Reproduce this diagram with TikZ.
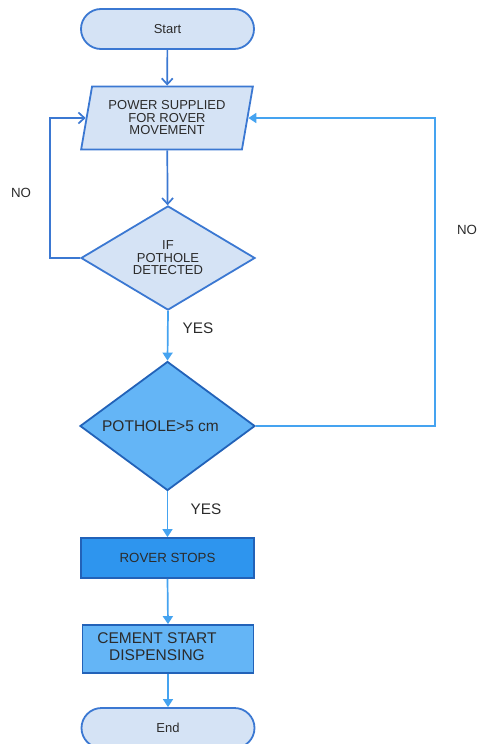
\documentclass[tikz,border=0pt]{standalone}
\usepackage{fontspec}
\setmainfont{Liberation Sans}
\usepackage{tikz}
\usetikzlibrary{arrows.meta,positioning,shapes.geometric,shapes.misc}

\definecolor{paleblue}{HTML}{D5E3F5}
\definecolor{edgeblue}{HTML}{3B78D2}
\definecolor{midblue}{HTML}{64B5F6}
\definecolor{deepblue}{HTML}{2E95EE}
\definecolor{rimblue}{HTML}{2262B8}
\definecolor{flowblue}{HTML}{45A3F0}
\definecolor{inkgray}{HTML}{2B2B2B}

\begin{document}
\begin{tikzpicture}[x=1pt,y=-1pt,
    terminal/.style={rounded rectangle, draw=edgeblue, fill=paleblue, line width=1.8pt,
      minimum width=173pt, minimum height=40pt, inner sep=0pt, text=inkgray,
      font=\fontsize{13}{13}\selectfont},
    iobox/.style={trapezium, trapezium left angle=76, trapezium right angle=104,
      trapezium stretches=true,
      draw=edgeblue, fill=paleblue, line width=1.8pt, minimum width=172pt, minimum height=63pt,
      inner sep=0pt, align=center, text=inkgray, font=\fontsize{13}{12.5}\selectfont},
    askpale/.style={diamond, draw=edgeblue, fill=paleblue, line width=1.8pt,
      minimum width=174pt, minimum height=90pt, inner sep=0pt, align=center, text=inkgray,
      font=\fontsize{13}{12.5}\selectfont},
    askdeep/.style={diamond, draw=rimblue, fill=midblue, line width=1.8pt,
      minimum width=175pt, minimum height=129pt, inner sep=0pt, text=inkgray,
      font=\fontsize{15.5}{15.5}\selectfont},
    taskbox/.style={rectangle, draw=rimblue, line width=1.8pt, inner sep=0pt, text=inkgray},
    answer/.style={text=inkgray, inner sep=0pt},
    flowtop/.style={draw=edgeblue, line width=1.7pt, -{Straight Barb[length=6pt,width=11pt]}},
    flowlow/.style={draw=flowblue, line width=1.7pt, -{Triangle[length=8pt,width=10pt]}}]

    \clip (0,0) rectangle (480,744);

    % Shapes
    \node[terminal] (start) at (167.5,29) {Start};
    \node[iobox] (power) at (167,118) {POWER SUPPLIED\\FOR ROVER\\MOVEMENT};
    \node[askpale] (detect) at (168,258) {IF\\POTHOLE\\DETECTED};
    \node[askdeep] (depth) at (167.5,426) {\hspace*{-14pt}POTHOLE>5 cm};
    \node[taskbox, fill=deepblue, minimum width=173pt, minimum height=40pt,
      font=\fontsize{13.3}{13.3}\selectfont] (stops) at (167.5,558) {ROVER STOPS};
    \node[taskbox, fill=midblue, minimum width=171pt, minimum height=48pt,
      font=\fontsize{15.5}{17}\selectfont] (cement) at (168,649)
      {\hspace*{-22pt}\begin{tabular}{@{}c@{}}CEMENT START\\DISPENSING\end{tabular}};
    \node[terminal] (finish) at (168,728) {End};

    % Labels
    \node[answer, font=\fontsize{13.3}{13.3}\selectfont] (noleft) at (21,193) {NO};
    \node[answer, font=\fontsize{13.3}{13.3}\selectfont] (noright) at (467,230) {NO};
    \node[answer, font=\fontsize{15.3}{15.3}\selectfont] (yesone) at (198,328) {YES};
    \node[answer, font=\fontsize{15.3}{15.3}\selectfont] (yestwo) at (206,509) {YES};

    % Connectors
    \draw[flowtop] (start) -- (power);
    \draw[flowtop] (power) -- (detect);
    \draw[flowtop] (detect.west) -- ++(-30,0) |- (power.west);
    \draw[flowlow] (detect.south) -- (depth.north);
    \draw[flowlow] (depth.east) -- ++(179,0) |- (power.east);
    \draw[flowlow] (depth.south) -- (stops.north);
    \draw[flowlow] (stops.south) -- (cement.north);
    \draw[flowlow] (cement.south) -- (finish.north);
\end{tikzpicture}
\end{document}
